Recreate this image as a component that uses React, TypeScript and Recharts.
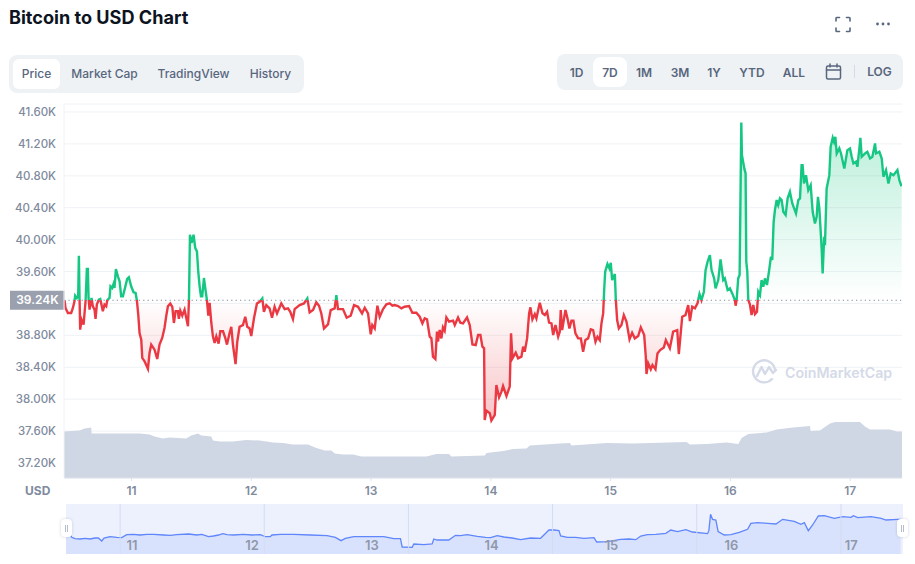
import React from "react";
import { ComposedChart, AreaChart, Area, XAxis, YAxis, CartesianGrid, ReferenceLine } from "recharts";

const title = "Bitcoin to USD Chart";
const viewTabs = ["Price", "Market Cap", "TradingView", "History"];
const rangeTabs = ["1D", "7D", "1M", "3M", "1Y", "YTD", "ALL"];
const baselinePrice = 39240;
const baselineLabel = "39.24K";
const priceTicks = [37200, 37600, 38000, 38400, 38800, 39200, 39600, 40000, 40400, 40800, 41200, 41600];
const hiddenPriceTick = 39200;
// time is counted in 12-minute intervals since day 10 00:00 (120 per day)
const dayTicks = [120, 240, 360, 480, 600, 720, 840];
const navGridTimes = [108, 252.3, 396.7, 541, 685.4, 829.8];

const priceSegmentA: number[][] = [
  [52.8,39240],[53.8,39143],[56.2,39081],[59.5,39081],[61.2,39143],[62.8,39227],[63.5,39298],[65.2,39269],[66.5,39290],[67.2,39799],[67.9,39248],[68.5,38872],[69.9,38997],[71.9,38935],[73.9,39227],[75.2,39632],[76.2,39632],[76.9,39269],[77.9,39122],[79.9,39269],[81.2,39164],[82.9,39122],[83.9,39006],[85.2,39185],[87.2,39248],[88.6,39256],[89.6,39198],[91.2,39102],[92.9,39185],[94.6,39164],[95.6,39240],[97.9,39269],[98.9,39415],[100.6,39394],[101.9,39444],[102.9,39394],[104.3,39632],[106.3,39540],[108,39478],[109.6,39290],[111.3,39290],[113,39373],[115.6,39507],[117.3,39528],[119.6,39415],[122,39340],[124,39331],[125.3,39240],[126.7,39060],[128,38830],[129.7,38747],[130.7,38517],[133,38475],[136.4,38379],[138,38580],[139.7,38684],[143,38621],[145.7,38504],[148,38684],[150.7,38767],[153,38893],[154.7,39039],[156.4,39164],[158.8,39198],[160.8,39156],[162.4,38955],[164.1,39102],[166.4,39102],[167.4,39006],[168.8,39110],[170.8,39047],[173.1,39122],[174.8,39018],[176.5,38914],[177.5,39240],[178.5,40062],[180.1,39958],[182.1,40062],[183.8,39895],[185.5,39853],[186.8,39603],[188.2,39415],[189.5,39290],[190.8,39290],[192.5,39519],[193.8,39394],[195.5,39240],[196.9,39047],[198.2,39206],[199.9,38955],[201.5,38788],[203.2,38705],[204.9,38788],[207.2,38696],[208.9,38851],[211.6,38851],[213.9,38767],[215.6,38684],[218.2,38830],
];
const priceSegmentB: number[][] = [
  [219.9,38908],[221.6,38678],[224.2,38440],[225.9,38720],[228.2,38908],[231.6,38929],[233.9,39033],[235.9,38908],[238.3,38887],[239.9,38791],[242.6,39012],[245.6,39200],[248.3,39221],[251,39263],[252.6,39096],[255,39179],[258.3,39138],[260.7,39021],[263.3,39158],[265.7,39075],[270,39200],[273.4,39129],[276.7,39138],[279,39096],[281.7,39004],[283.4,39129],[288.4,39179],[292.7,39200],[296.1,39263],[298.4,39087],[301.8,39117],[305.1,39213],[307.8,39171],[310.1,39075],[312.8,38887],[316.8,38937],[319.5,39117],[323.5,39138],[325.2,39305],[326.8,39129],[331.8,39129],[335.5,39021],[339.5,39046],[342.9,39179],[346.9,39158],[350.9,39075],[353.6,39146],[356.9,39075],[359.6,38812],[361.2,38929],[363.6,38887],[366.3,39171],[368.6,39033],[372,39129],[375.3,39188],[378.6,39200],[381.3,39171],[383.6,39179],
];
const priceSegmentC: number[][] = [
  [387,39167],[390.3,39138],[393.6,39159],[398,39167],[401.3,39084],[405.3,39084],[408.7,39034],[411.4,38950],[413.7,39013],[416,39000],[418.7,38783],[420.4,38762],[422,38533],[424.4,38503],[426,38846],[427,38721],[428.7,38867],[430.4,38762],[432,38900],[433.7,38858],[435.4,39025],[438.1,38971],[442.1,38984],[443.8,38929],[447.1,39025],[449.4,38959],[452.1,38950],[456.1,39025],[458.8,38929],[461.5,38687],[464.8,38679],[467.2,38804],[469.5,38804],[471.5,38658],[473.2,38637],[473.8,37739],[475.5,37856],[478.9,37823],[480.5,37731],[483.9,37802],[485.5,38178],[488.2,38023],[490.6,38094],[492.2,38165],[495.6,38040],[498.9,38157],[500.2,38825],[501.6,38512],[504.9,38583],[507.3,38512],[510.6,38533],[512.3,38658],[513.9,38595],[516.3,38762],[518.3,39076],[519.6,39151],[521.6,39000],[524,39067],[525.6,39013],[529,39209],[531.7,39076],[534,39055],[536.3,39096],[538.3,38959],[540.7,38950],[542.4,38804],[544.7,38929],[547.4,38783],[549,38846],
];
const priceSegmentD: number[][] = [
  [550,39117],[551.4,38866],[554.7,39117],[556.7,39013],[558.7,38887],[560.7,38983],[562.7,38983],[564.7,38825],[567.4,38762],[570.1,38762],[572.4,38595],[574.7,38741],[577.4,38762],[580.1,38875],[582.4,38866],[584.8,38720],[586.8,38783],[589.1,38741],[590.8,38950],[592.5,39075],[593.5,39368],[594.5,39597],[596.8,39694],[598.8,39639],[600.1,39710],[601.5,39493],[604.2,39568],[605.2,39242],[606.5,38992],[608.2,38887],[610.8,38929],[613.2,39054],[615.9,38971],[618.9,38750],[621.5,38833],[624.2,38762],[627.6,38791],[630.2,38900],[633.6,38804],[635.2,38532],[635.9,38315],[637.6,38449],[640.2,38374],[641.9,38428],[644.9,38374],[646.9,38574],[649.6,38616],[653.3,38649],[655.3,38741],[659.3,38637],[662.6,38846],[666.7,38866],[668.3,38566],[671.7,39034],[675,39054],[677.7,39180],[679.4,38979],[681.7,39159],[684.4,39138],[687,39201],[689,39318],[691,39242],[693.4,39347],[695.1,39618],[697.1,39723],[699.4,39806],[701.1,39618],[703.7,39514],[705.1,39389],[707.8,39493],[710.1,39752],[712.8,39493],[714.4,39514],
];
const priceSegmentE: number[][] = [
  [717.2,39368],[719.5,39389],[721.8,39326],[724.5,39243],[725.2,39172],[726.2,39243],[727.8,39514],[729.2,39556],[730.9,41469],[731.5,41060],[733.9,40893],[735.2,40830],[735.9,39723],[736.9,39598],[737.9,39243],[739.5,39188],[741.2,39055],[742.9,39180],[744.6,39067],[746.6,39097],[747.9,39347],[749.6,39305],[751.2,39493],[752.9,39410],[754.6,39514],[756.6,39431],[758.6,39598],[760.6,39786],[761.9,39744],[763.3,40224],[764.6,40371],[766.3,40496],[767.9,40433],[769.6,40517],[771.3,40496],[773,40350],[775.3,40308],[777.3,40517],[779.6,40600],[782,40454],[785.7,40329],[788,40496],[789.7,40517],[791.3,40934],[792.3,40934],[793.7,40705],
];
const priceSegmentF: number[][] = [
  [795.7,40808],[798,40620],[800.4,40683],[802.4,40349],[804.7,40203],[806.4,40286],[807.7,40537],[809.1,40391],[811.4,39890],[812.4,39576],[813.8,39994],[814.8,39973],[816.4,40641],[819.1,40808],[820.4,41163],[822.5,41276],[823.8,41226],[825.1,41289],[826.5,41080],[829.1,41143],[830.8,41080],[834.1,40892],[837.2,41122],[839.8,41143],[841.5,41038],[843.2,40955],[845.8,40976],[847.2,40913],[849.2,41143],[850.2,41276],[851.5,41038],[854.9,41080],[857.2,41101],[859.9,41017],[862.2,41038],[864.9,41205],[865.9,41080],[869.2,41101],[871.6,41017],[873.3,40788],[875.9,40871],[878.3,40704],[880.6,40829],[883.3,40808],[887.3,40871],[889.3,40746],[891,40683],[891.6,40671],
];
// traded volume, in billions of dollars
const volumePoints: number[][] = [
  [52.3,23.3],[67.9,23.8],[73,24.7],[79.6,25.3],[80,22.2],[128,22.2],[138,21.7],[143,20.8],[151.4,19.8],[158,20.2],[174.8,19.7],[179.8,21.3],[186.5,22.2],[189.9,21.3],[199.9,20.8],[201.5,18.7],[208.2,18.3],[221.6,18.2],[235,19],[248.3,18.7],[261.7,17.8],[271.7,17.5],[281.7,16.8],[296.7,16.7],[305.2,15],[313.5,13.8],[320.2,13.7],[323.5,12.2],[331.8,11.8],[341.9,11.7],[350.3,10.7],[368.6,10.7],[415.4,10.7],[425.4,12],[438,12],[440.5,10.8],[473.9,11.2],[475.6,12.5],[492.3,13.5],[502.3,14.5],[515.7,14.8],[519,16.3],[549,17.2],[559.1,17.5],[560.8,16.2],[589.2,17.2],[595.9,17.5],[622.6,17.3],[676,18],[679.4,16.7],[696.1,17],[716.2,17.8],[727.9,17],[731.2,20],[737.9,22],[756.3,22.8],[766.3,24.3],[783,25.3],[799.7,26],[800.4,23.5],[809.7,23.8],[819.8,27.2],[824.8,28],[849.8,28],[854.8,25.8],[859.8,24.2],[879.9,24.2],[886.6,23.3],[891.9,23.3],
];
const navigatorPoints: number[][] = [
  [53.8,35900],[57.8,35900],[59.5,35000],[62.8,34600],[67.9,34500],[72.9,34700],[77.9,34500],[82.9,34800],[86.2,34800],[89.6,33900],[91.9,34800],[97.9,35200],[104.6,35000],[109.6,34900],[114.6,35800],[121.3,35900],[128,35700],[134.7,35900],[141.4,35900],[151.4,35700],[158.1,35600],[164.8,35800],[176.5,36000],[184.8,35700],[189.8,35900],[196.5,35200],[201.5,35400],[206.5,35700],[210.9,36100],[214.9,35800],[221.6,35700],[231.6,35900],[240,35700],[248.3,35800],[253.3,35200],[258.3,35200],[260,35700],[268.4,35900],[281.7,35900],[298.4,35700],[315.2,35500],[323.5,35000],[329.2,34000],[333.5,34700],[341.9,35200],[355.3,35200],[372,35200],[382,34600],[388.7,34600],[390.4,32100],[400.4,32000],[402.1,33000],[412.1,32800],[420.4,33000],[422.1,34500],[425.4,34200],[437.1,34200],[443.8,35600],[448.8,35500],[455.5,35800],[465.6,35300],[473.9,35000],[478.9,34900],[485.6,35500],[492.3,35100],[500.6,34800],[509,34300],[519,34800],[529,34700],[534.1,36200],[537.4,37200],[542.4,37200],[547.4,37000],[549.1,35400],[555.8,35000],[564.1,35000],[572.5,34700],[582.5,34900],[585.2,33600],[595.9,33700],[609.3,34400],[617.6,34500],[624.3,34300],[629.3,35400],[636,35800],[644.4,35900],[654.4,36200],[659.4,37200],[666.1,36700],[674.4,37300],[681.1,36600],[696.2,36100],[697.5,37000],[699.2,41900],[701.2,40400],[704.5,40200],[706.8,36700],[712.9,35700],[719.6,35800],[727.9,36500],[736.3,37400],[739.6,39200],[746.3,39400],[756.3,39200],[764.7,39000],[771.4,40400],[783,39800],[789.7,38900],[793.1,39400],[797.1,37000],[801.4,38700],[807.1,41400],[813.1,41500],[823.2,40700],[831.5,41200],[839.9,41000],[842.2,41500],[846.6,40900],[859.9,41200],[870,40700],[875,40200],[886.7,40400],[889.5,40400],
];

const priceData = [...priceSegmentA, ...priceSegmentB, ...priceSegmentC, ...priceSegmentD, ...priceSegmentE, ...priceSegmentF].map(([t, price]) => ({ t, price }));
const volumeData = volumePoints.map(([t, volume]) => ({ t, volume }));
const navigatorData = navigatorPoints.map(([t, value]) => ({ t, value }));

const prices = priceData.map((d) => d.price);
const maxPrice = Math.max(...prices);
const minPrice = Math.min(...prices);
const splitOffset = (maxPrice - baselinePrice) / (maxPrice - minPrice);

const FONT = "Inter, sans-serif";
const GREEN = "#16c784";
const RED = "#ea3943";
const AXIS_TEXT = "#808a9d";
const TAB_TEXT = "#58667e";
const PANEL = "#eff2f5";

const abs = (s: React.CSSProperties): React.CSSProperties => ({ position: "absolute", ...s });

const Tab = ({ label, cx, cy, weight }: { label: string; cx: number; cy: number; weight: number }) => (
  <div style={abs({ left: cx - 50, width: 100, top: cy - 10, height: 20, lineHeight: "20px", textAlign: "center", fontSize: 12, fontWeight: weight, color: TAB_TEXT })}>{label}</div>
);

const viewCenters = [36.5, 104.5, 193.5, 270.5];
const rangeCenters = [576.5, 610, 644, 680, 714, 752, 794];

const PriceTag = (props: any) => {
  const { viewBox } = props;
  const y = viewBox.y;
  return (
    <g>
      <rect x={10} y={y - 9.5} width={54.5} height={19} fill="#9aa0ad" />
      <text x={37.5} y={y + 4.2} textAnchor="middle" fontSize={12} fontWeight={600} fill="#ffffff" fontFamily={FONT}>{baselineLabel}</text>
    </g>
  );
};

export default function App() {
  return (
    <div style={abs({ left: 0, top: 0, width: 915, height: 564, background: "#fff", fontFamily: FONT, overflow: "hidden" })}>
      <div style={abs({ left: 9, top: 5, fontSize: 18.1, lineHeight: "24px", fontWeight: 700, color: "#0d1421", whiteSpace: "nowrap" })}>{title}</div>

      <svg style={abs({ left: 830, top: 12, overflow: "visible" })} width={70} height={24} fill="none">
        <g stroke="#58667e" strokeWidth={1.6} strokeLinecap="round">
          <path d="M6 9V6.2Q6 5.5 6.7 5.5H9.5M16.5 5.5H19.3Q20 5.5 20 6.2V9M20 16V18.8Q20 19.5 19.3 19.5H16.5M9.5 19.5H6.7Q6 19.5 6 18.8V16" />
        </g>
        <circle cx={47.5} cy={12} r={1.4} fill="#58667e" />
        <circle cx={53} cy={12} r={1.4} fill="#58667e" />
        <circle cx={58.5} cy={12} r={1.4} fill="#58667e" />
      </svg>

      <div style={abs({ left: 9, top: 55, width: 295, height: 38, background: PANEL, borderRadius: 8 })} />
      <div style={abs({ left: 13, top: 59, width: 47, height: 30, background: "#fff", borderRadius: 6 })} />
      {viewTabs.map((t, i) => <Tab key={t} label={t} cx={viewCenters[i]} cy={74} weight={500} />)}

      <div style={abs({ left: 557, top: 54, width: 346, height: 36, background: PANEL, borderRadius: 8 })} />
      <div style={abs({ left: 593, top: 57, width: 34, height: 30, background: "#fff", borderRadius: 8 })} />
      {rangeTabs.map((t, i) => <Tab key={t} label={t} cx={rangeCenters[i]} cy={73} weight={600} />)}
      <svg style={abs({ left: 825, top: 63, overflow: "visible" })} width={18} height={18} fill="none" stroke="#58667e" strokeWidth={1.5}>
        <rect x={1.5} y={3} width={14} height={13} rx={1.5} />
        <path d="M1.5 7H15.5M5 1V4M12 1V4" strokeLinecap="round" />
      </svg>
      <div style={abs({ left: 854, top: 65, width: 1, height: 13, background: "#d5dae6" })} />
      <Tab label="LOG" cx={879.5} cy={72} weight={600} />

      <div style={abs({ left: 0, top: 0 })}>
        <ComposedChart width={915} height={564} margin={{ top: 104, right: 13, bottom: 56, left: 0 }} data={priceData}>
          <defs>
            <linearGradient id="priceStroke" x1="0" y1="0" x2="0" y2="1">
              <stop offset={splitOffset} stopColor={GREEN} />
              <stop offset={splitOffset} stopColor={RED} />
            </linearGradient>
            <linearGradient id="priceFill" x1="0" y1="0" x2="0" y2="1">
              <stop offset={0} stopColor={GREEN} stopOpacity={0.3} />
              <stop offset={splitOffset} stopColor={GREEN} stopOpacity={0} />
              <stop offset={splitOffset} stopColor={RED} stopOpacity={0} />
              <stop offset={1} stopColor={RED} stopOpacity={0.3} />
            </linearGradient>
          </defs>
          <CartesianGrid yAxisId="price" vertical={false} stroke={PANEL} strokeWidth={1} />
          <XAxis dataKey="t" type="number" domain={[52.3, 891.9]} allowDataOverflow ticks={dayTicks} tickFormatter={(t: number) => String(t / 120 + 10)} height={30} tickSize={3} tickMargin={5} stroke="#dfe3ea" tick={{ fill: AXIS_TEXT, fontSize: 12, fontWeight: 600, fontFamily: FONT }} />
          <YAxis yAxisId="price" domain={[37012, 41700]} allowDataOverflow ticks={priceTicks} width={64} tickLine={false} tickSize={0} tickMargin={8} stroke={PANEL} interval={0} tickFormatter={(v: number) => (v === hiddenPriceTick ? "" : (v / 1000).toFixed(2) + "K")} tick={{ fill: AXIS_TEXT, fontSize: 11.5, fontWeight: 500, fontFamily: FONT }} />
          <YAxis yAxisId="volume" hide domain={[0, 187]} allowDataOverflow />
          <Area yAxisId="volume" data={volumeData} dataKey="volume" type="linear" stroke="none" fill="#cfd6e4" fillOpacity={1} isAnimationActive={false} dot={false} activeDot={false} />
          <Area yAxisId="price" data={priceData} dataKey="price" type="linear" baseValue={baselinePrice} stroke="url(#priceStroke)" strokeWidth={2.4} fill="url(#priceFill)" fillOpacity={1} isAnimationActive={false} dot={false} activeDot={false} />
          <ReferenceLine yAxisId="price" y={baselinePrice} stroke="#808a9d" strokeDasharray="1.2 3.2" label={<PriceTag />} />
        </ComposedChart>
      </div>

      <div style={abs({ left: 25, top: 482, fontSize: 12, lineHeight: "18px", fontWeight: 700, color: AXIS_TEXT })}>USD</div>

      <svg style={abs({ left: 752, top: 359, overflow: "visible" })} width={26} height={26} fill="none" stroke="#d5dae8" strokeWidth={2.4} strokeLinecap="round" strokeLinejoin="round">
        <path d="M23 11A11 11 0 1 0 20 20" />
        <path d="M5 17L9.5 8L13 15L17 8L21 14L24 11" />
      </svg>
      <div style={abs({ left: 785, top: 362, fontSize: 14.2, lineHeight: "22px", fontWeight: 600, color: "#d5dae8", whiteSpace: "nowrap" })}>CoinMarketCap</div>

      <div style={abs({ left: 66, top: 504, width: 837, height: 50, background: "#edf1fe" })} />
      <div style={abs({ left: 66, top: 504 })}>
        <AreaChart width={837} height={50} margin={{ top: 0, right: 0, bottom: 0, left: 0 }} data={navigatorData}>
          <XAxis dataKey="t" type="number" domain={[53.8, 891.9]} allowDataOverflow hide />
          <YAxis hide domain={[30000, 45000]} allowDataOverflow />
          {navGridTimes.map((t) => <ReferenceLine key={t} x={t} stroke="#d4dcf2" />)}
          <Area dataKey="value" type="linear" stroke="#5f86fb" strokeWidth={1.3} fill="#d9e2fc" fillOpacity={1} isAnimationActive={false} dot={false} activeDot={false} />
          {dayTicks.map((t) => (
            <ReferenceLine key={t} x={t} stroke="none" label={{ value: String(t / 120 + 10), position: "insideBottom", offset: 4, fill: "#8f98ab", fontSize: 13, fontWeight: 600, fontFamily: FONT }} />
          ))}
        </AreaChart>
      </div>
      {[61, 897].map((x) => (
        <div key={x} style={abs({ left: x, top: 519, width: 11, height: 18, background: "#fff", borderRadius: 4, boxShadow: "0 0 3px rgba(120,130,160,.35)", display: "flex", alignItems: "center", justifyContent: "center", gap: 1.5 })}>
          <span style={{ width: 1, height: 7, background: "#b5bccb" }} />
          <span style={{ width: 1, height: 7, background: "#b5bccb" }} />
        </div>
      ))}
    </div>
  );
}
